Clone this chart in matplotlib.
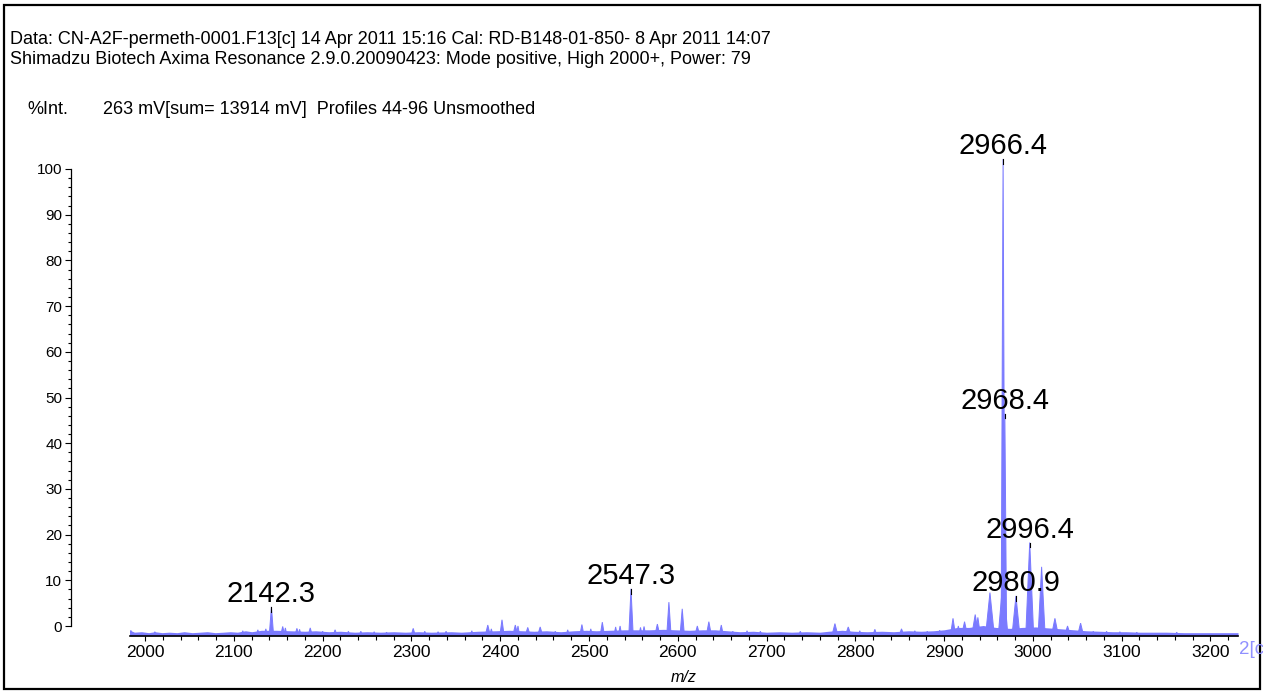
import numpy as np
import matplotlib.pyplot as plt
from matplotlib.patches import Rectangle
from matplotlib.ticker import MultipleLocator

plt.rcParams['font.family'] = ['Liberation Sans', 'DejaVu Sans']

# centroid peaks: m/z, %int (0 = x axis line), half width in Da
peak_mz = [1984, 2011, 2110, 2127, 2136, 2142.3, 2155, 2158, 2171, 2174, 2186, 2200, 2214, 2229,
           2243, 2258, 2272, 2302, 2315, 2330, 2339, 2368, 2386, 2390, 2402, 2417, 2420, 2431,
           2445, 2462, 2476, 2492, 2502, 2515, 2530, 2535, 2547.3, 2558, 2562, 2577, 2590, 2605,
           2622, 2635, 2649, 2662, 2678, 2693, 2738, 2777, 2792, 2805, 2822, 2852, 2867, 2881,
           2895, 2910, 2916, 2923, 2935, 2938, 2951.6, 2966.4, 2966.4, 2968.4, 2980.9, 2996.4,
           3009.8, 3024.8, 3039, 3053.7, 3068, 3083, 3098, 3117, 3162]
peak_int = [1.2, 0.9, 1.1, 1.3, 1.5, 6.1, 2.0, 1.7, 1.6, 1.4, 1.7, 1.0, 1.3, 1.0,
            1.0, 0.9, 0.8, 1.6, 1.0, 0.9, 1.0, 1.1, 2.3, 1.5, 3.4, 2.3, 2.1, 1.8,
            1.9, 1.0, 1.3, 2.4, 1.5, 2.9, 1.9, 2.1, 9.9, 1.8, 2.0, 2.5, 7.1, 5.7,
            2.1, 3.0, 2.3, 1.0, 1.1, 1.0, 1.0, 2.6, 1.9, 1.1, 1.4, 1.5, 1.1, 1.0,
            1.2, 3.7, 2.1, 3.0, 4.5, 3.9, 9.1, 100.0, 12.0, 46.6, 8.4, 19.6,
            14.5, 3.7, 2.1, 2.7, 1.0, 1.0, 0.9, 0.8, 0.8]
peak_hw = [1.5, 2, 2, 2, 2, 2.5, 2.5, 2, 2.5, 2, 2.5, 2, 2.5, 2,
           2, 2, 2, 2.5, 2, 2, 2, 2, 3, 2, 2.5, 3, 2, 3,
           3, 2, 2, 2.5, 2, 2.5, 2, 2, 2.5, 2, 2, 3, 2.5, 2.5,
           3, 3, 2.5, 2, 2, 2, 2, 3.5, 3.5, 2, 2.5, 3, 2, 2,
           2, 3, 2.5, 3.5, 4, 3, 5, 2.2, 5.5, 2, 4.5, 4.5,
           4, 4, 3.5, 3.5, 2, 2, 2, 2, 2]

# baseline noise level
noise_mz = [1983, 1988, 1996, 2004, 2011, 2019, 2027, 2036, 2044, 2053, 2062, 2070, 2079, 2088,
            2096, 2104, 2113, 2120, 2131, 2148, 2163, 2180, 2192, 2207, 2220, 2236, 2250, 2265,
            2280, 2293, 2308, 2322, 2345, 2356, 2375, 2395, 2410, 2425, 2438, 2452, 2468, 2483,
            2497, 2508, 2523, 2540, 2553, 2568, 2584, 2597, 2613, 2628, 2642, 2656, 2670, 2685,
            2700, 2715, 2728, 2745, 2760, 2770, 2785, 2798, 2813, 2830, 2843, 2860, 2874, 2888,
            2900, 2915, 2928, 2944, 2958, 2974, 2988, 3003, 3017, 3032, 3046, 3060, 3075, 3090,
            3105, 3120, 3135, 3150, 3170, 3185, 3200, 3215, 3231]
noise_int = [1.2, 0.8, 0.9, 0.7, 0.9, 0.7, 0.8, 0.7, 0.9, 0.7, 0.8, 0.9, 0.7, 0.8,
             0.9, 0.8, 1.1, 0.9, 1.2, 1.2, 1.1, 1.0, 1.1, 0.9, 1.0, 0.8, 0.9, 0.8,
             0.9, 0.8, 0.9, 0.8, 0.9, 0.8, 1.0, 1.1, 1.2, 1.1, 1.0, 1.1, 0.9, 1.1,
             1.2, 1.1, 1.2, 1.3, 1.3, 1.3, 1.4, 1.3, 1.2, 1.3, 1.3, 1.1, 0.9, 1.0,
             0.8, 0.9, 0.8, 0.9, 0.8, 1.0, 1.2, 1.0, 0.9, 1.0, 0.9, 1.1, 1.0, 1.1,
             1.3, 1.8, 1.8, 2.2, 1.8, 1.6, 1.8, 1.9, 1.7, 1.5, 1.3, 1.1, 1.0, 0.9,
             0.9, 0.8, 0.8, 0.8, 0.7, 0.7, 0.7, 0.7, 0.7]

label_mz = [2142.3, 2547.3, 2966.4, 2968.4, 2980.9, 2996.4]
label_int = [6.1, 9.9, 100.0, 46.6, 8.4, 19.6]

header = ["Data: CN-A2F-permeth-0001.F13[c] 14 Apr 2011 15:16 Cal: RD-B148-01-850- 8 Apr 2011 14:07",
          "Shimadzu Biotech Axima Resonance 2.9.0.20090423: Mode positive, High 2000+, Power: 79"]
info = "263 mV[sum= 13914 mV]  Profiles 44-96 Unsmoothed"

col = '#7a7aff'
W, H = 1263, 693
def box(l, t, r, b):
    return [l / W, 1 - b / H, (r - l) / W, (b - t) / H]

fig = plt.figure(figsize=(W / 100, H / 100), dpi=100)

ax = fig.add_axes(box(130, 636 - 477 * 1.05, 1238, 636))
ax.patch.set_visible(False)
ax.set_xlim(1983, 3231)
ax.set_ylim(0, 105)
ax.fill_between(noise_mz, noise_int, 0, color=col, lw=0)
for m, h, w in zip(peak_mz, peak_int, peak_hw):
    ax.fill([m - w, m, m + w], [0, h, 0], color=col, ec=col, lw=0.7)
for m, h in zip(label_mz, label_int):
    ax.plot([m, m], [h - 1.0, h], color='black', lw=0.8)
    ax.annotate('%.1f' % m, (m, h), xytext=(0, 5), textcoords='offset pixels',
                ha='center', va='baseline', fontsize=21)
for s in ['top', 'right', 'left']:
    ax.spines[s].set_visible(False)
ax.spines['bottom'].set_linewidth(1.2)
ax.set_yticks([])
ax.xaxis.set_major_locator(MultipleLocator(100))
ax.xaxis.set_minor_locator(MultipleLocator(20))
ax.tick_params(axis='x', which='major', length=3.8, width=0.8, pad=3, labelsize=12.5)
ax.tick_params(axis='x', which='minor', length=3, width=0.8)

ay = fig.add_axes(box(71, 169, 90, 626))
ay.patch.set_visible(False)
ay.set_ylim(0, 100)
for s in ['top', 'right', 'bottom']:
    ay.spines[s].set_visible(False)
ay.spines['left'].set_linewidth(0.9)
ay.set_xticks([])
ay.yaxis.set_major_locator(MultipleLocator(10))
ay.yaxis.set_minor_locator(MultipleLocator(2))
ay.tick_params(axis='y', which='major', length=4.3, width=0.8, pad=2, labelsize=11)
ay.tick_params(axis='y', which='minor', length=2.2, width=0.8)

fig.text(10 / W, 1 - 43.5 / H, header[0], fontsize=13, va='baseline')
fig.text(10 / W, 1 - 63.5 / H, header[1], fontsize=13, va='baseline')
fig.text(27 / W, 1 - 114 / H, "%Int.", fontsize=13, va='baseline')
fig.text(103 / W, 1 - 114 / H, info, fontsize=13, va='baseline')
fig.text(684 / W, 1 - 678 / H, "m/z", fontsize=11.5, style='italic', ha='center', va='center')
fig.text(1239 / W, 1 - 649 / H, "2[c", fontsize=13.5, color='#9090ff', va='center')

fig.add_artist(Rectangle((4 / W, 1 - 689 / H), 1256 / W, 684 / H, transform=fig.transFigure,
                         fill=False, lw=1.6, color='black'))

plt.savefig('out.png', dpi=100)
